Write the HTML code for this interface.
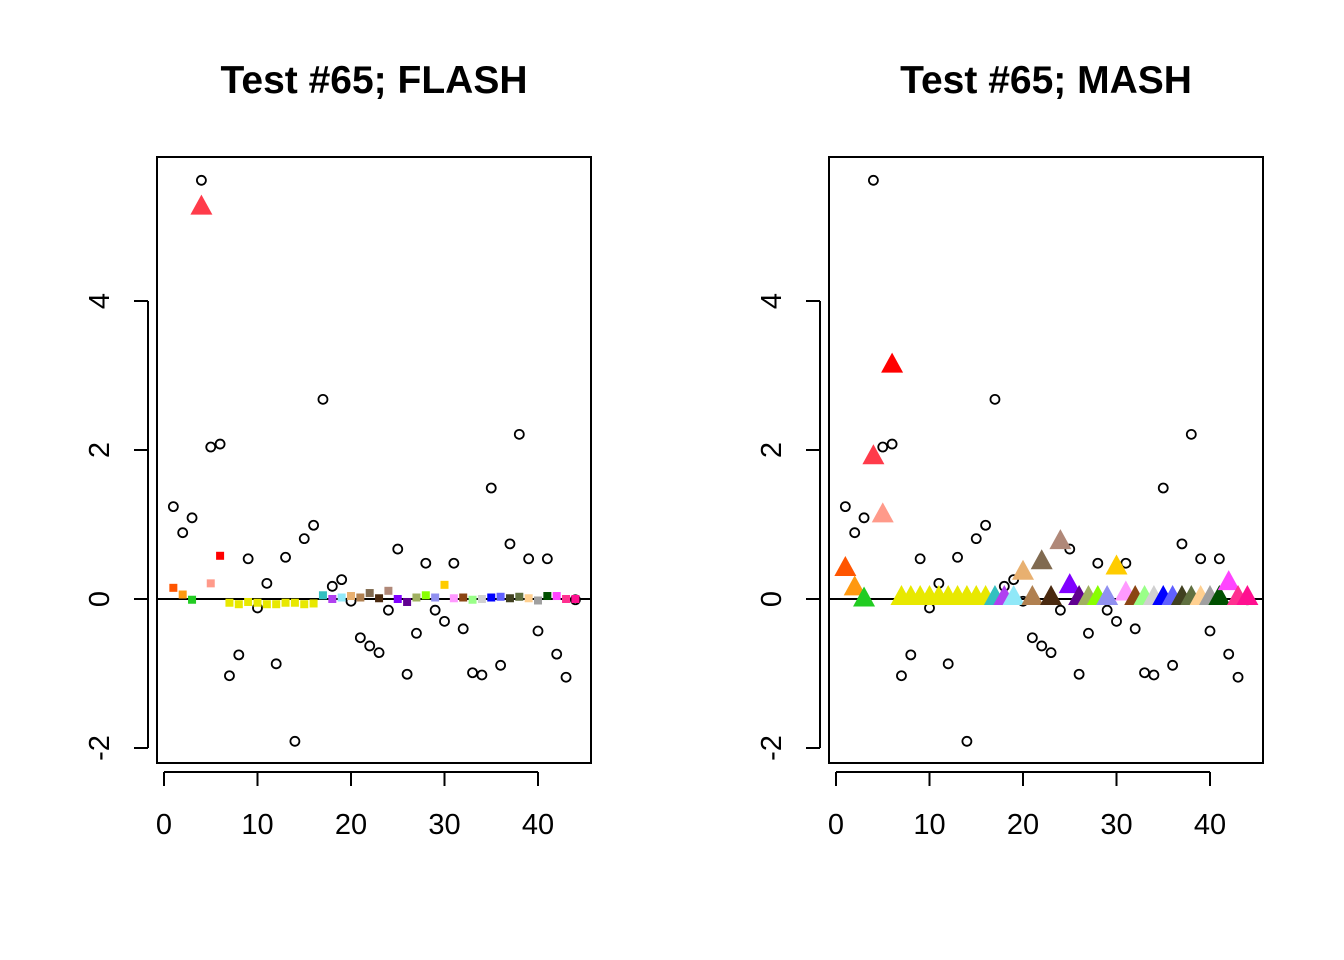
<!DOCTYPE html>
<html><head><meta charset="utf-8"><style>body{margin:0;background:#fff}svg{display:block}text{font-family:"Liberation Sans",Arial,sans-serif}</style></head>
<body>
<svg id="c" width="1344" height="960" xmlns="http://www.w3.org/2000/svg"></svg>
<script>
const circleY=[1.24,0.89,1.09,5.62,2.04,2.08,-1.03,-0.75,0.54,-0.12,0.21,-0.87,0.56,-1.91,0.81,0.99,2.68,0.17,0.26,-0.03,-0.52,-0.63,-0.72,-0.15,0.67,-1.01,-0.46,0.48,-0.15,-0.30,0.48,-0.40,-0.99,-1.02,1.49,-0.89,0.74,2.21,0.54,-0.43,0.54,-0.74,-1.05,-0.01];
const colors=["#ff5500","#ff9910","#22cc22","#ff3b4a","#ff9a8a","#ff0000","#e8e800","#e8e800","#e8e800","#e8e800","#e8e800","#e8e800","#e8e800","#e8e800","#e8e800","#e8e800","#33c0c0","#b040f0","#90e8f8","#e8b070","#b08050","#806a50","#4a2a10","#b08878","#8000ff","#600090","#a0b060","#88ff00","#9090f0","#ffcc00","#ff99ff","#8b4513","#99ff88","#d0d0d0","#0000ff","#6060ff","#404020","#607040","#ffd090","#a0a0a0","#005000","#ff44ff","#ff3090","#ff1090"];
const flashY=[0.15,0.06,-0.01,5.28,0.21,0.58,-0.05,-0.07,-0.04,-0.05,-0.07,-0.07,-0.05,-0.05,-0.07,-0.06,0.05,0.0,0.02,0.04,0.02,0.08,0.01,0.11,0.0,-0.04,0.02,0.05,0.02,0.19,0.01,0.02,-0.01,0.0,0.02,0.03,0.01,0.03,0.01,-0.02,0.04,0.04,0.0,0.0];
const flashTri=[4];
const mashY=[0.43,0.17,0.02,1.93,1.15,3.16,0.04,0.04,0.04,0.04,0.04,0.04,0.04,0.04,0.04,0.04,0.04,0.04,0.04,0.38,0.04,0.52,0.04,0.79,0.2,0.04,0.04,0.04,0.04,0.45,0.1,0.04,0.04,0.04,0.04,0.04,0.04,0.04,0.04,0.04,0.04,0.24,0.04,0.04];
const xTicks=[0,10,20,30,40];
const yTicks=[-2,0,2,4];
const titles=["Test #65; FLASH","Test #65; MASH"];
const NS="http://www.w3.org/2000/svg";
const svg=document.getElementById('c');
function mk(t,a,p){const e=document.createElementNS(NS,t);for(const k in a)e.setAttribute(k,a[k]);(p||svg).appendChild(e);return e;}
function panel(idx,x0){
  const g=mk('g',{});
  
  
  const xs=v=>x0+7+v*9.35, ys=v=>599-v*74.5;
  const t=mk('text',{x:x0+217,y:93,'text-anchor':'middle','font-size':39,'font-weight':'bold'},g);t.textContent=titles[idx];
  
  const zl=mk('line',{x1:x0,x2:x0+434,y1:ys(0),y2:ys(0),stroke:'#000','stroke-width':2},g);
  
  for(let i=0;i<44;i++){
    const c=mk('circle',{cx:xs(i+1),cy:ys(circleY[i]),r:4.5,fill:'none',stroke:'#000','stroke-width':1.8},g);
    
  }
  const tri=(x,y,col)=>{const p=mk('polygon',{points:`${x-11},${y+9} ${x+11},${y+9} ${x},${y-11}`,fill:col},g);};
  for(let i=0;i<44;i++){
    if(idx===0){
      if(flashTri.includes(i+1)) tri(xs(i+1),ys(flashY[i]),colors[i]);
      else{const r=mk('rect',{x:xs(i+1)-4,y:ys(flashY[i])-4,width:8,height:8,fill:colors[i]},g);}
    } else tri(xs(i+1),ys(mashY[i]),colors[i]);
  }
  const b=mk('rect',{x:x0,y:157,width:434,height:606,fill:'none',stroke:'#000','stroke-width':2},g);
  
  const xa=mk('line',{x1:xs(0),x2:xs(40),y1:772,y2:772,stroke:'#000','stroke-width':2},g);
  
  xTicks.forEach(v=>{mk('line',{x1:xs(v),x2:xs(v),y1:772,y2:786,stroke:'#000','stroke-width':2},g);
    const l=mk('text',{x:xs(v),y:834,'text-anchor':'middle','font-size':29},g);l.textContent=v;
    });
  const ya=mk('line',{x1:x0-9,x2:x0-9,y1:ys(-2),y2:ys(4),stroke:'#000','stroke-width':2},g);
  
  yTicks.forEach(v=>{mk('line',{x1:x0-23,x2:x0-9,y1:ys(v),y2:ys(v),stroke:'#000','stroke-width':2},g);
    const l=mk('text',{x:0,y:0,'text-anchor':'middle','font-size':29,transform:`translate(${x0-48},${ys(v)}) rotate(-90)`},g);l.textContent=v;
    });
}
panel(0,157);panel(1,829);
</script>
</body></html>
